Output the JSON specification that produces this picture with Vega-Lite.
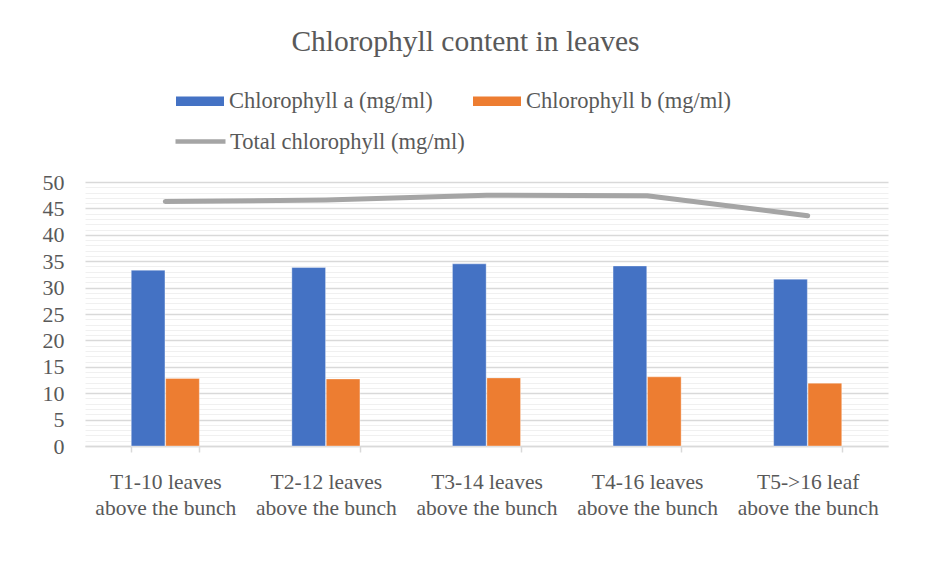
{
  "$schema": "https://vega.github.io/schema/vega-lite/v6.json",
  "width": 803,
  "height": 264,
  "autosize": {"type": "none"},
  "padding": {"left": 85, "top": 182, "right": 48, "bottom": 136},
  "background": "white",
  "title": {
    "text": "Chlorophyll content in leaves",
    "font": "Times New Roman, Liberation Serif, DejaVu Serif, serif",
    "fontSize": 29.5,
    "fontWeight": "normal",
    "color": "#595959",
    "anchor": "middle",
    "frame": "group",
    "dx": -21,
    "offset": 20
  },
  "config": {
    "view": {"stroke": null},
    "font": "Times New Roman, Liberation Serif, DejaVu Serif, serif",
    "axis": {"labelFont": "Times New Roman, Liberation Serif, DejaVu Serif, serif", "labelColor": "#595959", "labelFontSize": 21.5},
    "legend": {"labelFont": "Times New Roman, Liberation Serif, DejaVu Serif, serif", "labelColor": "#595959", "labelFontSize": 22.5, "labelLimit": 500}
  },
  "data": {
    "values": [
      {"treatment": "T1-10 leaves above the bunch", "series": "Chlorophyll a (mg/ml)", "value": 33.3},
      {"treatment": "T1-10 leaves above the bunch", "series": "Chlorophyll b (mg/ml)", "value": 12.8},
      {"treatment": "T1-10 leaves above the bunch", "series": "Total chlorophyll (mg/ml)", "value": 46.3},
      {"treatment": "T2-12 leaves above the bunch", "series": "Chlorophyll a (mg/ml)", "value": 33.8},
      {"treatment": "T2-12 leaves above the bunch", "series": "Chlorophyll b (mg/ml)", "value": 12.7},
      {"treatment": "T2-12 leaves above the bunch", "series": "Total chlorophyll (mg/ml)", "value": 46.6},
      {"treatment": "T3-14 leaves above the bunch", "series": "Chlorophyll a (mg/ml)", "value": 34.5},
      {"treatment": "T3-14 leaves above the bunch", "series": "Chlorophyll b (mg/ml)", "value": 12.9},
      {"treatment": "T3-14 leaves above the bunch", "series": "Total chlorophyll (mg/ml)", "value": 47.5},
      {"treatment": "T4-16 leaves above the bunch", "series": "Chlorophyll a (mg/ml)", "value": 34.1},
      {"treatment": "T4-16 leaves above the bunch", "series": "Chlorophyll b (mg/ml)", "value": 13.1},
      {"treatment": "T4-16 leaves above the bunch", "series": "Total chlorophyll (mg/ml)", "value": 47.4},
      {"treatment": "T5->16 leaf above the bunch", "series": "Chlorophyll a (mg/ml)", "value": 31.6},
      {"treatment": "T5->16 leaf above the bunch", "series": "Chlorophyll b (mg/ml)", "value": 11.9},
      {"treatment": "T5->16 leaf above the bunch", "series": "Total chlorophyll (mg/ml)", "value": 43.6}
    ]
  },
  "encoding": {
    "x": {
      "field": "treatment",
      "type": "nominal",
      "sort": null,
      "scale": {"paddingInner": 0.576, "paddingOuter": 0.288},
      "axis": {
        "title": null,
        "labelAngle": 0,
        "labelExpr": "split(replace(datum.label, ' above', '|above'), '|')",
        "labelLineHeight": 26,
        "labelPadding": 19,
        "labelLimit": 300,
        "tickBand": "extent",
        "ticks": true,
        "tickSize": 6,
        "tickColor": "#d9d9d9",
        "tickWidth": 1.5,
        "domainColor": "#d9d9d9",
        "domainWidth": 1.5,
        "grid": false
      }
    },
    "y": {
      "field": "value",
      "type": "quantitative",
      "scale": {"domain": [0, 50], "nice": false},
      "axis": {
        "title": null,
        "values": [0,1,2,3,4,5,6,7,8,9,10,11,12,13,14,15,16,17,18,19,20,21,22,23,24,25,26,27,28,29,30,31,32,33,34,35,36,37,38,39,40,41,42,43,44,45,46,47,48,49,50],
        "labelExpr": "datum.value % 5 === 0 ? datum.label : ''",
        "labelFontSize": 22,
        "ticks": false,
        "domain": false,
        "labelPadding": 21,
        "grid": true,
        "gridColor": {"condition": {"test": "datum.value % 5 === 0", "value": "#d9d9d9"}, "value": "#f0f0f0"},
        "gridWidth": {"condition": {"test": "datum.value % 5 === 0", "value": 1.5}, "value": 1}
      }
    }
  },
  "layer": [
    {
      "transform": [{"filter": "datum.series !== 'Total chlorophyll (mg/ml)'"}],
      "mark": {"type": "bar", "stroke": "white", "strokeWidth": 0.6, "strokeOpacity": 0.6},
      "encoding": {
        "xOffset": {"field": "series", "type": "nominal", "scale": {"paddingInner": 0.02}},
        "color": {
          "field": "series",
          "type": "nominal",
          "scale": {"domain": ["Chlorophyll a (mg/ml)", "Chlorophyll b (mg/ml)"], "range": ["#4472C4", "#ED7D31"]},
          "legend": {
            "title": null,
            "orient": "none",
            "direction": "horizontal",
            "legendX": 91,
            "legendY": -105,
            "symbolType": "M-1,-0.2H1V0.2H-1Z",
            "symbolSize": 2304,
            "symbolStrokeWidth": 0,
            "symbolOpacity": 1,
            "labelOffset": 5,
            "columnPadding": 40
          }
        }
      }
    },
    {
      "transform": [{"filter": "datum.series === 'Total chlorophyll (mg/ml)'"}],
      "mark": {"type": "line", "strokeWidth": 5, "strokeCap": "round", "strokeJoin": "round"},
      "encoding": {
        "stroke": {
          "field": "series",
          "type": "nominal",
          "scale": {"range": ["#A5A5A5"]},
          "legend": {
            "title": null,
            "orient": "none",
            "legendX": 88,
            "legendY": -68,
            "symbolType": "stroke",
            "symbolSize": 2500,
            "symbolStrokeWidth": 4.5,
            "labelOffset": 2
          }
        }
      }
    }
  ]
}
